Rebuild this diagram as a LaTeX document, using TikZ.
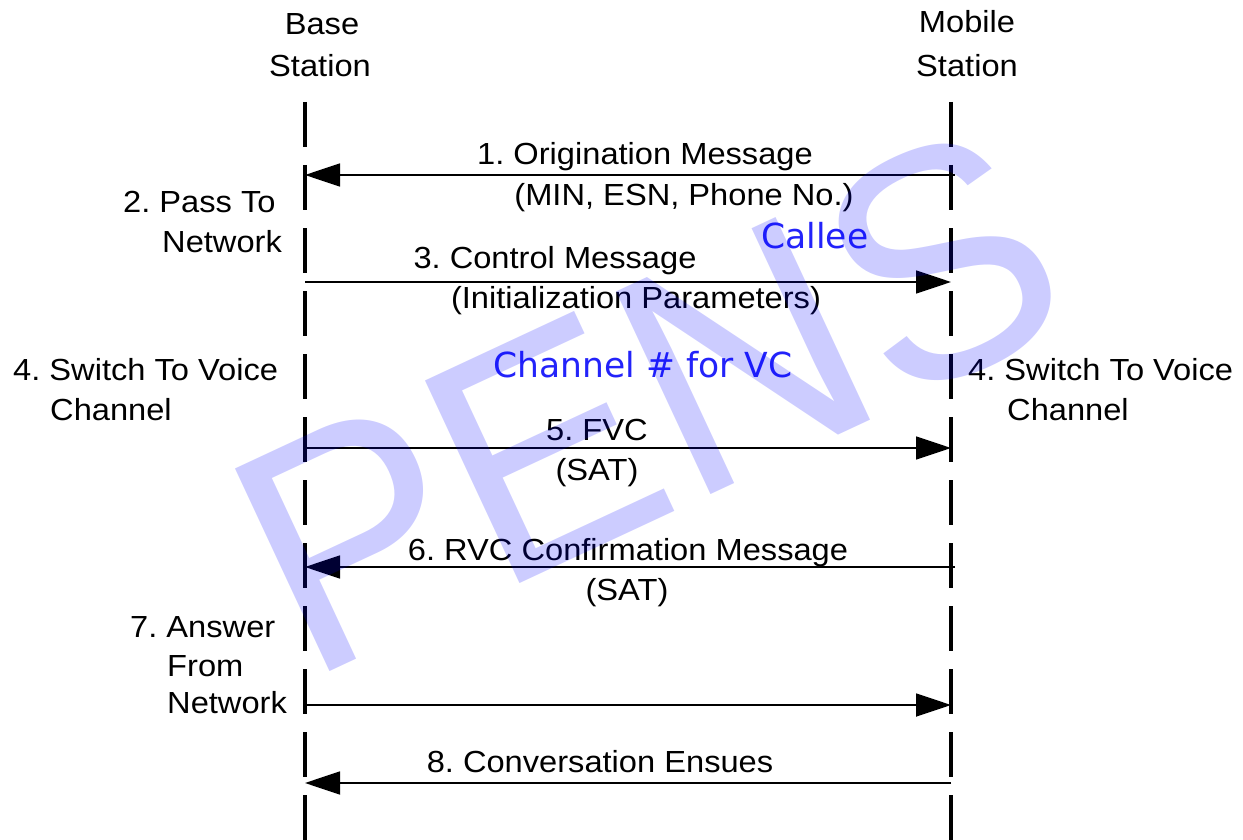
\documentclass[tikz,border=0pt]{standalone}
\usepackage{fontspec}
\setmainfont{Liberation Sans}
\newfontfamily\labfont[FakeStretch=1.07]{Liberation Sans}
\newfontfamily\bluefont{DejaVu Sans}
\newfontfamily\wmfont[FakeStretch=0.97]{Liberation Sans}
\usetikzlibrary{arrows.meta}
\definecolor{lblue}{RGB}{35,35,250}
\begin{document}
\frenchspacing
\begin{tikzpicture}[x=1pt,y=-1pt,
  lab/.style={font=\labfont\fontsize{30.5}{38}\selectfont, inner sep=0pt, anchor=base},
  labw/.style={lab, anchor=base west},
  bluelab/.style={font=\bluefont\fontsize{34.5}{40}\selectfont, text=lblue, inner sep=0pt, anchor=base},
  lifeline/.style={line width=3.5pt, dash pattern=on 45pt off 18pt},
  msg/.style={line width=1.8pt, -{Triangle[length=35pt,width=23pt]}},
  wm/.style={font=\wmfont\fontsize{325}{325}\selectfont, text=blue, text opacity=0.2, inner sep=0pt}]
\useasboundingbox (0,0) rectangle (1243,840);
\fill[white] (0,0) rectangle (1243,840);

% lifelines
\coordinate (Btop) at (305,102);
\coordinate (Bbot) at (305,840);
\coordinate (Mtop) at (951,102);
\coordinate (Mbot) at (951,840);
\draw[lifeline] (Btop) -- (Bbot);
\draw[lifeline] (Mtop) -- (Mbot);

% headers
\node[lab] (bs1) at (322,35) {Base};
\node[lab] (bs2) at (320,77) {Station};
\node[lab] (ms1) at (967,33) {Mobile};
\node[lab] (ms2) at (967,77) {Station};

% message end points
\coordinate (M1) at (955,175);  \coordinate (B1) at (305,175);
\coordinate (B3) at (305,282);  \coordinate (M3) at (951,282);
\coordinate (B5) at (305,448);  \coordinate (M5) at (951,448);
\coordinate (M6) at (955,567);  \coordinate (B6) at (305,567);
\coordinate (B7) at (305,705);  \coordinate (M7) at (951,705);
\coordinate (M8) at (951,783);  \coordinate (B8) at (305,783);

\draw[msg] (M1) -- (B1);
\draw[msg] (B3) -- (M3);
\draw[msg] (B5) -- (M5);
\draw[msg] (M6) -- (B6);
\draw[msg] (B7) -- (M7);
\draw[msg] (M8) -- (B8);

% message labels
\node[lab] (l1a) at (645,165) {1. Origination Message};
\node[lab] (l1b) at (684,205) {(MIN, ESN, Phone No.)};
\node[lab] (l3a) at (555,268) {3. Control Message};
\node[lab] (l3b) at (636,308) {(Initialization Parameters)};
\node[lab] (l5a) at (597,440) {5. FVC};
\node[lab] (l5b) at (597,480) {(SAT)};
\node[lab] (l6a) at (628,560) {6. RVC Confirmation Message};
\node[lab] (l6b) at (627,600) {(SAT)};
\node[lab] (l8a) at (600,772) {8. Conversation Ensues};

% side labels
\node[labw] (l2a) at (123,212) {2. Pass To};
\node[labw] (l2b) at (162,252) {Network};
\node[labw] (l4a) at (13,380) {4. Switch To Voice};
\node[labw] (l4b) at (50,420) {Channel};
\node[labw] (r4a) at (968,380) {4. Switch To Voice};
\node[labw] (r4b) at (1007,420) {Channel};
\node[labw] (l7a) at (130,637) {7. Answer};
\node[labw] (l7b) at (167,676) {From};
\node[labw] (l7c) at (167,713) {Network};

% blue annotations
\node[bluelab] (callee) at (815,248) {Callee};
\node[bluelab] (chan) at (643,377) {Channel \# for VC};

% watermark
\node[wm, rotate=25, anchor=base west] (pens) at (306,683) {PENS};
\end{tikzpicture}
\end{document}
